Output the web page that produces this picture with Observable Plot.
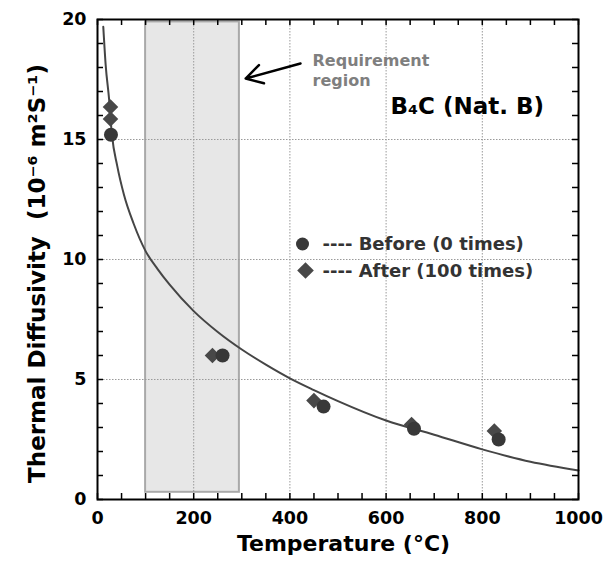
<!DOCTYPE html>
<html>
<head>
<meta charset="utf-8">
<script src="https://cdn.jsdelivr.net/npm/d3@7"></script>
<script src="https://cdn.jsdelivr.net/npm/@observablehq/plot@0.6"></script>
<style>
  html, body { margin: 0; padding: 0; background: #fff; }
</style>
</head>
<body>
<div id="chart"></div>
<script>
// ---- data ----
const curveT = [12, 17, 24, 30, 41, 55, 75, 100, 125, 150, 200, 250, 300, 350, 400, 450, 500, 600, 700, 800, 900, 1000];
const curveV = [19.7, 18.1, 16.7, 15.2, 13.9, 12.7, 11.5, 10.35, 9.6, 8.95, 7.85, 6.98, 6.25, 5.62, 5.05, 4.56, 4.1, 3.29, 2.7, 2.09, 1.57, 1.21];

const beforeT = [28, 260, 470, 658, 834];
const beforeV = [15.2, 6.0, 3.87, 2.95, 2.5];

const afterT = [27, 27, 239, 450, 653, 825];
const afterV = [16.35, 15.85, 6.0, 4.12, 3.12, 2.85];

const regionT = [100, 295];
const regionV = [0.3, 19.9];

const arrowFrom = [422, 18.17];
const arrowTo = [308, 17.54];

const xTicks = [0, 200, 400, 600, 800, 1000];
const yTicks = [0, 5, 10, 15, 20];
const gridX = [200, 400, 600, 800];
const gridY = [5, 10, 15];
const xMinor = d3.range(0, 1001, 50);
const yMinor = d3.range(0, 21, 1);

const legendLabels = ["---- Before (0 times)", "---- After (100 times)"];
const annotation = "Requirement\nregion";
const material = "B\u2084C (Nat. B)";
const xLabel = "Temperature (\u00b0C)";
const yLabel = "Thermal Diffusivity\u00a0\u00a0(10\u207b\u2076 m\u00b2S\u207b\u00b9)";

// ---- tables ----
const curve = curveT.map((t, i) => ({T: t, V: curveV[i]}));
const before = beforeT.map((t, i) => ({T: t, V: beforeV[i]}));
const after = afterT.map((t, i) => ({T: t, V: afterV[i]}));
const region = [{x1: regionT[0], x2: regionT[1], y1: regionV[0], y2: regionV[1]}];
const arrow = [{x1: arrowFrom[0], y1: arrowFrom[1], x2: arrowTo[0], y2: arrowTo[1]}];

const W = 616, H = 565, mL = 97, mR = 38, mT = 19, mB = 66;
const pw = W - mL - mR, ph = H - mT - mB;
const tk = 6;

const chart = Plot.plot({
  width: W, height: H,
  marginLeft: mL, marginRight: mR, marginTop: mT, marginBottom: mB,
  x: {domain: [0, 1000]},
  y: {domain: [0, 20]},
  style: {fontFamily: "DejaVu Sans", fontWeight: "bold", fontSize: "17.5px", color: "#000", background: "#fff"},
  marks: [
    Plot.rect(region, {x1: "x1", x2: "x2", y1: "y1", y2: "y2", fill: "#e7e7e7", stroke: "#a9a9a9", strokeWidth: 2}),
    Plot.ruleX(gridX, {x: d => d, stroke: "#9a9a9a", strokeWidth: 1, strokeDasharray: "1.5,1.5"}),
    Plot.ruleY(gridY, {y: d => d, stroke: "#9a9a9a", strokeWidth: 1, strokeDasharray: "1.5,1.5"}),
    // inward minor ticks on all sides
    Plot.tickX(xMinor, {x: d => d, insetTop: ph - tk, stroke: "#000", strokeWidth: 1.5}),
    Plot.tickX(xMinor, {x: d => d, insetBottom: ph - tk, stroke: "#000", strokeWidth: 1.5}),
    Plot.tickY(yMinor, {y: d => d, insetRight: pw - tk, stroke: "#000", strokeWidth: 1.5}),
    Plot.tickY(yMinor, {y: d => d, insetLeft: pw - tk, stroke: "#000", strokeWidth: 1.5}),
    Plot.line(curve, {x: "T", y: "V", curve: "monotone-x", stroke: "#454545", strokeWidth: 2}),
    Plot.dot(after, {x: "T", y: "V", r: 7, symbol: "diamond2", fill: "#484848", stroke: "none"}),
    Plot.dot(before, {x: "T", y: "V", r: 7, fill: "#383838", stroke: "none"}),
    Plot.axisX(xTicks, {anchor: "bottom", tickSize: 0, tickPadding: 12, label: null, tickFormat: d => String(d), fontSize: 17.5, fontWeight: "bold"}),
    Plot.axisY(yTicks, {anchor: "left", tickSize: 0, tickPadding: 11, label: null, tickFormat: d => String(d), fontSize: 17.5, fontWeight: "bold"}),
    Plot.frame({stroke: "#000", strokeWidth: 2}),
    Plot.arrow(arrow, {x1: "x1", y1: "y1", x2: "x2", y2: "y2", stroke: "#000", strokeWidth: 2.5, headLength: 12, bend: 0}),
    Plot.text([annotation], {text: d => d, frameAnchor: "top-left", dx: 215, dy: 32, textAnchor: "start", lineAnchor: "top", fontSize: 16, lineHeight: 1.25, fill: "#7f7f7f", fontWeight: "bold"}),
    Plot.text([material], {text: d => d, frameAnchor: "top-left", dx: 293, dy: 78, textAnchor: "start", lineAnchor: "top", fontSize: 23, fill: "#000", fontWeight: "bold"}),
    // legend
    Plot.dot([legendLabels[0]], {frameAnchor: "top-left", dx: 205, dy: 224.5, r: 6.5, fill: "#383838", stroke: "none"}),
    Plot.dot([legendLabels[1]], {frameAnchor: "top-left", dx: 208, dy: 251, r: 7.5, symbol: "diamond2", fill: "#484848", stroke: "none"}),
    Plot.text([legendLabels[0]], {text: d => d, frameAnchor: "top-left", dx: 225, dy: 224.5, textAnchor: "start", lineAnchor: "middle", fontSize: 18, fill: "#333", fontWeight: "bold"}),
    Plot.text([legendLabels[1]], {text: d => d, frameAnchor: "top-left", dx: 225, dy: 252, textAnchor: "start", lineAnchor: "middle", fontSize: 18, fill: "#333", fontWeight: "bold"}),
    // axis titles
    Plot.text([xLabel], {text: d => d, frameAnchor: "bottom", dx: 5.5, dy: 44, textAnchor: "middle", lineAnchor: "middle", fontSize: 22, fill: "#000", fontWeight: "bold"}),
    Plot.text([yLabel], {text: d => d, frameAnchor: "left", rotate: -90, dx: -60, dy: 14, textAnchor: "middle", lineAnchor: "middle", fontSize: 23, fill: "#000", fontWeight: "bold"})
  ]
});
document.getElementById("chart").appendChild(chart);
</script>
</body>
</html>
